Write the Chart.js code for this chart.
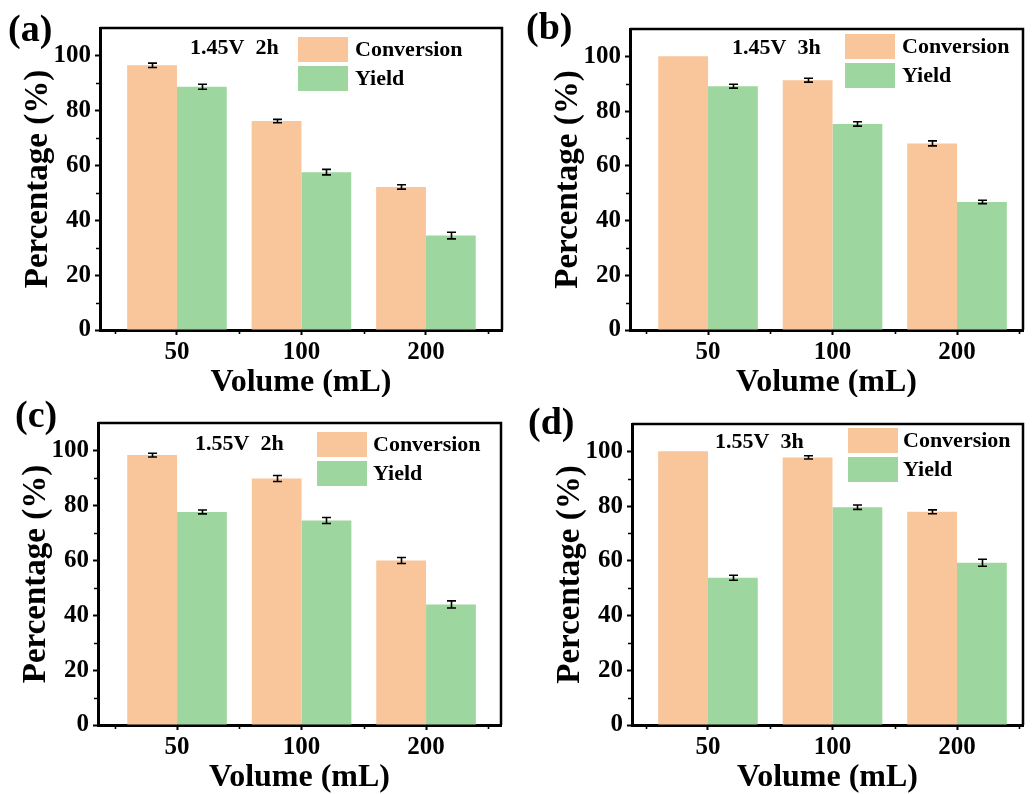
<!DOCTYPE html>
<html>
<head>
<meta charset="utf-8">
<script src="https://cdn.jsdelivr.net/npm/chart.js@4.4.1/dist/chart.umd.min.js"></script>
<style>
  html, body { margin: 0; padding: 0; background: #fff; }
  #wrap { position: relative; width: 1033px; height: 794px; overflow: hidden; background: #fff; }
  #wrap canvas { position: absolute; }
</style>
</head>
<body>
<div id="wrap">
  <canvas id="pa" width="516" height="397" style="left:0px;top:0px"></canvas>
  <canvas id="pb" width="517" height="397" style="left:516px;top:0px"></canvas>
  <canvas id="pc" width="516" height="399" style="left:0px;top:395px"></canvas>
  <canvas id="pd" width="517" height="399" style="left:516px;top:395px"></canvas>
</div>
<script>
// Reaction volume groups and y-axis tick values
const categories = ['50', '100', '200'];
const yTicks = [0, 20, 40, 60, 80, 100];
const seriesNames = ['Conversion', 'Yield'];

// 1.45 V, 2 h
const conversion145_2h = [96.4, 76.1, 52.1];
const conversionErr145_2h = [0.8, 0.6, 0.8];
const yield145_2h = [88.6, 57.5, 34.4];
const yieldErr145_2h = [0.9, 1.0, 1.2];

// 1.45 V, 3 h
const conversion145_3h = [100, 91.3, 68.2];
const conversionErr145_3h = [0, 0.7, 0.9];
const yield145_3h = [89.1, 75.3, 46.8];
const yieldErr145_3h = [0.7, 0.8, 0.6];

// 1.55 V, 2 h
const conversion155_2h = [98.3, 89.8, 59.9];
const conversionErr155_2h = [0.7, 1.1, 1.1];
const yield155_2h = [77.6, 74.5, 43.9];
const yieldErr155_2h = [0.7, 1.1, 1.3];

// 1.55 V, 3 h
const conversion155_3h = [100, 97.8, 77.9];
const conversionErr155_3h = [0, 0.6, 0.7];
const yield155_3h = [53.8, 79.6, 59.3];
const yieldErr155_3h = [0.9, 0.8, 1.3];

const ORANGE = '#F9C59A';
const GREEN = '#9DD69E';
const FONT = '"Liberation Serif", "Times New Roman", serif';

const panels = [
  { id: 'pa', w: 516, h: 397, plotL: 100, plotR: 502, plotT: 28, plotB: 330, xmin: 0.382, xmax: 3.611,
    tag: '(a)', tagX: 8, tagY: 31, note: '1.45V  2h', noteX: 190, noteY: 48, legX: 298, legY: 37, legTextX: 355,
    conv: conversion145_2h, convErr: conversionErr145_2h, yld: yield145_2h, yldErr: yieldErr145_2h },
  { id: 'pb', w: 517, h: 397, plotL: 114, plotR: 507, plotT: 29, plotB: 330, xmin: 0.373, xmax: 3.53,
    tag: '(b)', tagX: 10, tagY: 29, note: '1.45V  3h', noteX: 216, noteY: 48, legX: 329, legY: 34, legTextX: 386,
    conv: conversion145_3h, convErr: conversionErr145_3h, yld: yield145_3h, yldErr: yieldErr145_3h },
  { id: 'pc', w: 516, h: 399, plotL: 98, plotR: 501, plotT: 28, plotB: 330, xmin: 0.365, xmax: 3.602,
    tag: '(c)', tagX: 15, tagY: 22, note: '1.55V  2h', noteX: 195, noteY: 49, legX: 317, legY: 37, legTextX: 373,
    conv: conversion155_2h, convErr: conversionErr155_2h, yld: yield155_2h, yldErr: yieldErr155_2h },
  { id: 'pd', w: 517, h: 399, plotL: 116, plotR: 507, plotT: 29, plotB: 330, xmin: 0.39, xmax: 3.53,
    tag: '(d)', tagX: 12, tagY: 29, note: '1.55V  3h', noteX: 199, noteY: 47, legX: 332, legY: 33, legTextX: 387,
    conv: conversion155_3h, convErr: conversionErr155_3h, yld: yield155_3h, yldErr: yieldErr155_3h }
];

// Error bars, closed frame, minor ticks, inset legend and panel texts
const decorations = {
  id: 'decorations',
  afterDatasetsDraw(chart) {
    const ctx = chart.ctx;
    const ys = chart.scales.y;
    ctx.save();
    ctx.strokeStyle = '#000';
    ctx.lineWidth = 1.6;
    chart.data.datasets.forEach((ds, di) => {
      const meta = chart.getDatasetMeta(di);
      meta.data.forEach((bar, i) => {
        const e = ds.errors[i];
        if (!e) return;
        const v = ds.data[i].y;
        const y1 = ys.getPixelForValue(v + e);
        const y2 = ys.getPixelForValue(v - e);
        const x = Math.round(bar.x) + 0.5;
        ctx.beginPath();
        ctx.moveTo(x, y1); ctx.lineTo(x, y2);
        ctx.moveTo(x - 4.5, y1); ctx.lineTo(x + 4.5, y1);
        ctx.moveTo(x - 4.5, y2); ctx.lineTo(x + 4.5, y2);
        ctx.stroke();
      });
    });
    ctx.restore();
  },
  afterDraw(chart, args, opts) {
    const p = opts.panel;
    const ctx = chart.ctx;
    const a = chart.chartArea;
    const xs = chart.scales.x, ys = chart.scales.y;
    ctx.save();
    // top and right frame lines
    ctx.strokeStyle = '#000';
    ctx.lineWidth = 2.5;
    ctx.beginPath();
    ctx.moveTo(a.left, a.top); ctx.lineTo(a.right, a.top); ctx.lineTo(a.right, a.bottom);
    ctx.stroke();
    // minor ticks
    ctx.lineWidth = 1.6;
    ctx.beginPath();
    [10, 30, 50, 70, 90].forEach(v => {
      const y = Math.round(ys.getPixelForValue(v)) + 0.5;
      ctx.moveTo(a.left - 1, y); ctx.lineTo(a.left - 4, y);
    });
    [0.5, 1.5, 2.5, 3.5].forEach(v => {
      if (v <= xs.min || v >= xs.max) return;
      const x = Math.round(xs.getPixelForValue(v)) + 0.5;
      ctx.moveTo(x, a.bottom + 1); ctx.lineTo(x, a.bottom + 4);
    });
    ctx.stroke();
    // inset legend
    ctx.textBaseline = 'middle';
    ctx.textAlign = 'left';
    ctx.fillStyle = '#000';
    chart.data.datasets.forEach((ds, di) => {
      const y0 = p.legY + di * 29;
      ctx.fillStyle = ds.backgroundColor;
      ctx.fillRect(p.legX, y0, 50, 25);
      ctx.fillStyle = '#000';
      ctx.font = 'bold 22px ' + FONT;
      ctx.fillText(ds.label, p.legTextX, y0 + 13);
    });
    // condition note
    ctx.font = 'bold 22px ' + FONT;
    ctx.fillText(p.note, p.noteX, p.noteY);
    // panel tag
    ctx.font = 'bold 38px ' + FONT;
    ctx.fillText(p.tag, p.tagX, p.tagY);
    ctx.restore();
  }
};

panels.forEach(p => {
  const ctx = document.getElementById(p.id).getContext('2d');
  const toPoints = arr => arr.map((v, i) => ({ x: i + 1, y: v }));
  new Chart(ctx, {
    type: 'bar',
    data: {
      datasets: [
        { label: seriesNames[0], data: toPoints(p.conv), errors: p.convErr, backgroundColor: ORANGE,
          borderWidth: 0, categoryPercentage: 0.8, barPercentage: 1.0 },
        { label: seriesNames[1], data: toPoints(p.yld), errors: p.yldErr, backgroundColor: GREEN,
          borderWidth: 0, categoryPercentage: 0.8, barPercentage: 1.0 }
      ]
    },
    options: {
      responsive: false,
      animation: false,
      devicePixelRatio: 1,
      layout: { padding: { left: 0, top: p.plotT, right: p.w - p.plotR, bottom: 0 } },
      plugins: {
        legend: { display: false },
        tooltip: { enabled: false },
        decorations: { panel: p }
      },
      scales: {
        x: {
          type: 'linear',
          min: p.xmin,
          max: p.xmax,
          offset: false,
          afterBuildTicks: s => { s.ticks = categories.map((c, i) => ({ value: i + 1 })); },
          afterFit: s => { s.height = p.h - p.plotB; },
          ticks: {
            callback: v => categories[Math.round(v) - 1],
            color: '#000',
            font: { family: FONT, size: 25, weight: 'bold' },
            padding: 3,
            maxRotation: 0,
            autoSkip: false
          },
          grid: { offset: false, drawOnChartArea: false, drawTicks: true, tickLength: 5, tickWidth: 2, tickColor: '#000' },
          border: { display: true, color: '#000', width: 3 },
          title: {
            display: true,
            text: 'Volume (mL)',
            color: '#000',
            font: { family: FONT, size: 32, weight: 'bold' },
            padding: { top: 0, bottom: p.h - 19.2 - (p.plotB + 53) }
          }
        },
        y: {
          min: 0,
          max: 110,
          afterBuildTicks: s => { s.ticks = yTicks.map(v => ({ value: v })); },
          afterFit: s => { s.width = p.plotL; },
          ticks: {
            color: '#000',
            font: { family: FONT, size: 25, weight: 'bold' },
            padding: 4
          },
          grid: { drawOnChartArea: false, drawTicks: true, tickLength: 5, tickWidth: 2, tickColor: '#000' },
          border: { display: true, color: '#000', width: 3 },
          title: {
            display: true,
            text: 'Percentage (%)',
            color: '#000',
            font: { family: FONT, size: 33, weight: 'bold' },
            padding: { top: p.plotL - 62 - 19.8, bottom: 0 }
          }
        }
      }
    },
    plugins: [decorations]
  });
});
</script>
</body>
</html>
